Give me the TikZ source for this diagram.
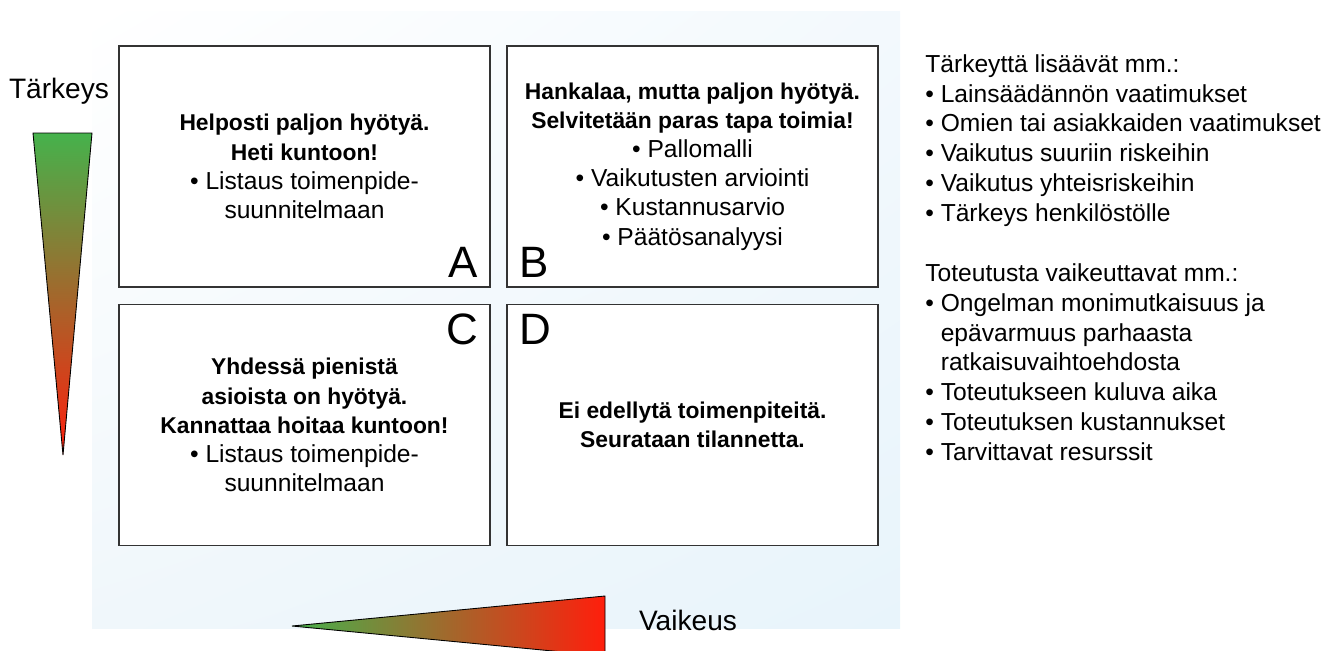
\documentclass[tikz,border=0pt]{standalone}
\usepackage{fontspec}
\setmainfont{Liberation Sans}
\usetikzlibrary{shadings}
\definecolor{bgblue}{RGB}{232,244,251}
\definecolor{bgblueA}{RGB}{243,249,253}
\definecolor{bgblueB}{RGB}{240,247,251}
\definecolor{importgreen}{RGB}{69,178,76}
\definecolor{importbrown}{RGB}{184,132,58}
\definecolor{importred}{RGB}{255,30,12}

\begin{document}
\begin{tikzpicture}[x=0.02cm, y=-0.02cm,
        quad/.style={draw=black!80, line width=0.7pt, fill=white, minimum width=7.42cm, minimum height=4.82cm, align=center, inner sep=0pt, font=\fontsize{14}{16.6}\selectfont},
        corner/.style={font=\fontsize{25}{30}\selectfont, inner xsep=7pt, inner ysep=5.5pt},
        axislabel/.style={font=\fontsize{16}{19}\selectfont}]
        \useasboundingbox (0,0) rectangle (1327,650);

        % background
        \shade[upper left=white, upper right=bgblueA, lower left=bgblueB, lower right=bgblue] (92,11) rectangle (900,628);

        % Tärkeys wedge
        \shadedraw[top color=importgreen, middle color=importbrown, bottom color=importred, draw=black, line width=0.5pt] (33,133) -- (92,133) -- (63,455) -- cycle;
        \node[axislabel, anchor=base] (tarkeys) at (59,98) {Tärkeys};

        % Vaikeus wedge
        \shadedraw[left color=importgreen, middle color=importbrown, right color=importred, draw=black, line width=0.5pt] (292,626) -- (605,596) -- (605,656) -- cycle;
        \node[axislabel, anchor=base] (vaikeus) at (688,630) {Vaikeus};

        % A
        \node[quad] (A) at (304.5,166.5) {\textbf{\fontsize{13}{16.6}\selectfont Helposti paljon hyötyä.}\\ \textbf{\fontsize{13}{16.6}\selectfont Heti kuntoon!}\\ • Listaus toimenpide-\\ suunnitelmaan};
        \node[corner, anchor=south east] (labelA) at (A.south east) {A};

        % B
        \node[quad] (B) at (692.5,166.5) {\textbf{\fontsize{13}{16.6}\selectfont Hankalaa, mutta paljon hyötyä.}\\ \textbf{\fontsize{13}{16.6}\selectfont Selvitetään paras tapa toimia!}\\ • Pallomalli\\ • Vaikutusten arviointi\\ • Kustannusarvio\\ • Päätösanalyysi};
        \node[corner, anchor=south west] (labelB) at (B.south west) {B};

        % C
        \node[quad] (C) at (304.5,425) {\textbf{\fontsize{13}{16.6}\selectfont Yhdessä pienistä}\\ \textbf{\fontsize{13}{16.6}\selectfont asioista on hyötyä.}\\ \textbf{\fontsize{13}{16.6}\selectfont Kannattaa hoitaa kuntoon!}\\ • Listaus toimenpide-\\ suunnitelmaan};
        \node[corner, anchor=north east] (labelC) at (C.north east) {C};

        % D
        \node[quad] (D) at (692.5,425) {\textbf{\fontsize{13}{16.6}\selectfont Ei edellytä toimenpiteitä.}\\ \textbf{\fontsize{13}{16.6}\selectfont Seurataan tilannetta.}};
        \node[corner, anchor=north west] (labelD) at (D.north west) {D};

        % factors
        \node[anchor=north west, align=left, inner sep=0pt, font=\fontsize{14}{17}\selectfont] (factors) at (925,54) {Tärkeyttä lisäävät mm.:\\ • Lainsäädännön vaatimukset\\ • Omien tai asiakkaiden vaatimukset\\ • Vaikutus suuriin riskeihin\\ • Vaikutus yhteisriskeihin\\ • Tärkeys henkilöstölle\\[17pt] Toteutusta vaikeuttavat mm.:\\ • Ongelman monimutkaisuus ja\\ \hphantom{• }epävarmuus parhaasta\\ \hphantom{• }ratkaisuvaihtoehdosta\\ • Toteutukseen kuluva aika\\ • Toteutuksen kustannukset\\ • Tarvittavat resurssit};

    \end{tikzpicture}
\end{document}
